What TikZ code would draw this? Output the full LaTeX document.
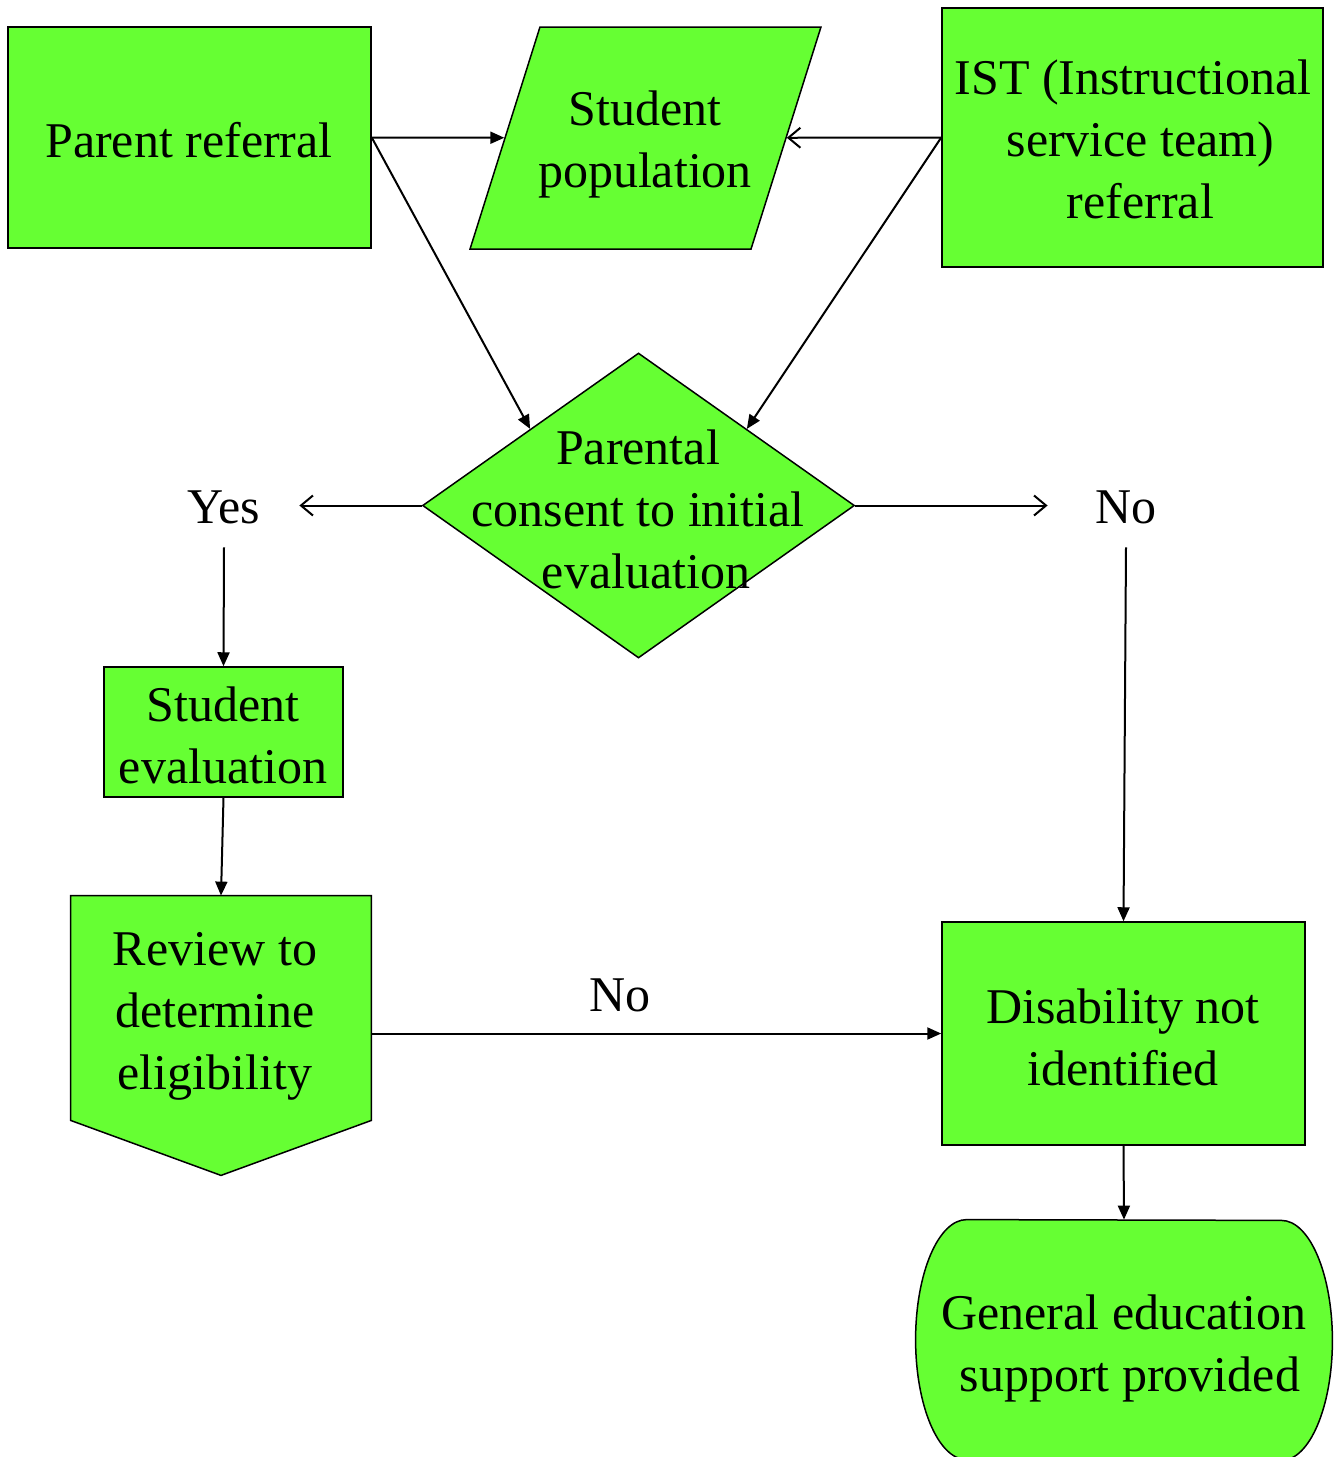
\documentclass[tikz,border=0pt]{standalone}
\usepackage{fontspec}
\setmainfont{Liberation Serif}
\usepackage{tikz}
\usetikzlibrary{shapes.geometric, arrows.meta, backgrounds, calc}
\definecolor{flowgreen}{RGB}{102, 255, 51}
\definecolor{darktext}{RGB}{0, 0, 0}

\begin{document}
\begin{tikzpicture}[x=0.5pt, y=-0.5pt,
		every node/.style={text=darktext, font=\fontsize{25}{31}\selectfont, align=center, inner sep=1pt},
		greenbox/.style={draw, line width=0.75pt, fill=flowgreen},
		plainbox/.style={minimum width=#1, minimum height=40pt},
		solidarrow/.style={-{Triangle[length=7pt, width=6pt]}, line width=1pt},
		openarrow/.style={-{Straight Barb[length=6pt, width=10pt]}, line width=1pt}]
					\useasboundingbox (0,0) rectangle (1339,1457);
					\node[greenbox, minimum width=181.5pt, minimum height=110.5pt] (parent) at (189.5,137.5) {};
					\node (parenttext) at (189,140) {Parent referral};
					\node[greenbox, xslant=0.315, transform shape, minimum width=140.5pt, minimum height=111pt] (population) at (645.5,138) {};
					\node (populationtext) at (645,144) {Student\\population};
					\node[greenbox, minimum width=190.5pt, minimum height=129.5pt] (ist) at (1132.5,137.5) {};
					\node (isttext) at (1133,139) {IST (Instructional\\\hspace{7.5pt}service team)\\\hspace{7.5pt}referral};
					\node[greenbox, diamond, minimum width=216pt, minimum height=152.5pt, inner sep=0pt] (consent) at (638.5,505.5) {};
					\node (consenttext) at (638,509) {Parental\\consent to initial\\\hspace{8pt}evaluation};
					\node[plainbox=75pt] (yes) at (224,507) {Yes};
					\node[plainbox=78pt] (no1) at (1126,507) {No};
					\node[greenbox, minimum width=119.5pt, minimum height=65pt] (evaluation) at (223.5,732) {};
					\node (evaluationtext) at (223,735) {Student\\evaluation};
					\node[minimum width=150pt, minimum height=112pt] (review) at (221,1008) {};
					\node (reviewtext) at (215,1016) {Review to\\determine\\eligibility};
					\node[greenbox, minimum width=181.5pt, minimum height=111.5pt] (disability) at (1123.5,1033.5) {};
					\node (disabilitytext) at (1123,1037) {Disability not\\identified};
					\node[minimum width=208pt, minimum height=120pt] (general) at (1124,1340) {};
					\node (generaltext) at (1124,1348) {General education\\\hspace{6pt}support provided};
					\node (nolabel) at (620,995) {No};
					\begin{pgfonlayer}{background}
						\draw[greenbox] (review.north west) -- (review.north east) -- (review.south east) -- ($(review.south)+(0,55)$) -- (review.south west) -- cycle;
						\draw[greenbox] ($(general.north west)+(51,0)$) arc[start angle=90, end angle=270, x radius=25.5pt, y radius=60pt] -- ($(general.south east)+(-51,0)$) arc[start angle=-90, end angle=90, x radius=25.5pt, y radius=60pt] -- cycle;
					\end{pgfonlayer}
					\draw[solidarrow] (parent.east) -- (population);
					\draw[openarrow] (ist.west) -- (population);
					\draw[solidarrow] (parent.east) -- (consent.north west);
					\draw[solidarrow] (ist.west) -- (consent.north east);
					\draw[openarrow] (consent.west) -- (consent.west -| yes.east);
					\draw[openarrow] (consent.east) -- (consent.east -| no1.west);
					\draw[solidarrow] (yes.south) -- (evaluation.north);
					\draw[solidarrow] (no1.south) -- (disability.north);
					\draw[solidarrow] (evaluation.south) -- (review.north);
					\draw[solidarrow] (review.east |- disability.west) -- (disability.west);
					\draw[solidarrow] (disability.south) -- (general.north);
				\end{tikzpicture}
\end{document}
